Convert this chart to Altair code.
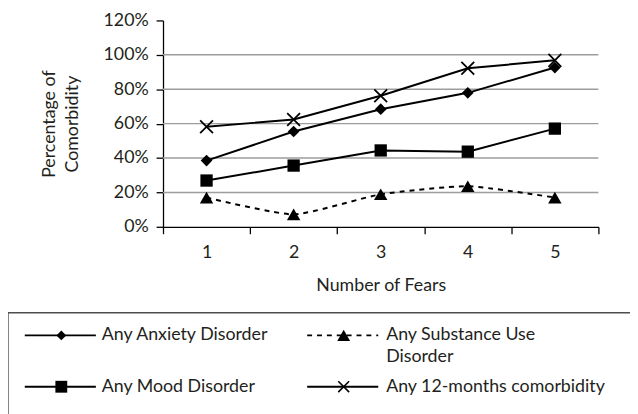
import altair as alt
import pandas as pd

# ---------------- data ----------------
fears = [1, 2, 3, 4, 5]
series_names = [
    "Any Anxiety Disorder",
    "Any Substance Use Disorder",
    "Any Mood Disorder",
    "Any 12-months comorbidity",
]
anxiety = [0.385, 0.554, 0.684, 0.779, 0.926]
substance = [0.170, 0.072, 0.189, 0.236, 0.170]
mood = [0.269, 0.356, 0.444, 0.437, 0.571]
any12 = [0.582, 0.624, 0.762, 0.922, 0.968]
y_tick_values = [0, 0.2, 0.4, 0.6, 0.8, 1.0, 1.2]
grid_values = [0.2, 0.4, 0.6, 0.8, 1.0]
legend_lines = [
    ["Any Anxiety Disorder"],
    ["Any Substance Use", "Disorder"],
    ["Any Mood Disorder"],
    ["Any 12-months comorbidity"],
]
x_title = "Number of Fears"
y_title = ["Percentage of", "Comorbidity"]

rows = []
for name, vals in zip(series_names, [anxiety, substance, mood, any12]):
    for f, v in zip(fears, vals):
        rows.append({"fears": f, "value": v, "series": name})
df = pd.DataFrame(rows)
legend_df = pd.DataFrame({"series": series_names})
grid_df = pd.DataFrame({"value": grid_values})

# ---------------- style ----------------
FONT = "Lato"
FS = 18
TXT = "#231f20"
W, H = 441, 209
X_PATH = "M-1,-1L1,1M-1,1L1,-1"

styles = [
    dict(shape="diamond", size=140, filled=True, dash=None, interp="linear", lsize=100),
    dict(shape="triangle-up", size=185, filled=True, dash=[5, 5], interp="cardinal", lsize=170),
    dict(shape="square", size=155, filled=True, dash=None, interp="linear", lsize=144),
    dict(shape=X_PATH, size=169, filled=False, dash=None, interp="linear", lsize=121),
]
# legend layout (line start, marker, line end, text start, row y) in plot pixels
legend_layout = [
    (-140, -103, -68, -62, 319),
    (146, 183, 218, 226, 319),
    (-140, -103, -68, -62, 371),
    (146, 183, 218, 226, 371),
]

x_enc = alt.X(
    "fears:O",
    scale=alt.Scale(type="band", domain=fears, paddingInner=0, paddingOuter=0),
    axis=alt.Axis(
        title=x_title,
        tickBand="extent",
        labelAngle=0,
        grid=False,
        tickSize=7,
        labelPadding=10,
        titleBaseline="top",
        titleY=51,
    ),
)
y_enc = alt.Y(
    "value:Q",
    scale=alt.Scale(domain=[0, 1.2], nice=False, zero=True),
    axis=alt.Axis(
        values=y_tick_values,
        format=".0%",
        grid=False,
        tickSize=7,
        labelPadding=8,
        title=y_title,
        titleAngle=270,
        titleBaseline="bottom",
        titleAlign="center",
        titleX=-106,
        titleY=H / 2,
        titleLineHeight=23,
    ),
)

layers = []
layers.append(
    alt.Chart(grid_df).mark_rule(color="#9d9d9d", strokeWidth=1.5).encode(y=y_enc)
)

base = alt.Chart(df)
for name, st in zip(series_names, styles):
    kw = dict(color="black", strokeWidth=2, interpolate=st["interp"])
    if st["dash"]:
        kw["strokeDash"] = st["dash"]
    if st["interp"] == "cardinal":
        kw["tension"] = 0.45
    layers.append(
        base.transform_filter(alt.datum.series == name).mark_line(**kw).encode(x=x_enc, y=y_enc)
    )
for name, st in zip(series_names, styles):
    kw = dict(shape=st["shape"], size=st["size"], opacity=1, color="black")
    if st["filled"]:
        kw["filled"] = True
    else:
        kw["filled"] = False
        kw["strokeWidth"] = 1.8
    layers.append(
        base.transform_filter(alt.datum.series == name).mark_point(**kw).encode(x=x_enc, y=y_enc)
    )

# ---------------- legend ----------------
layers.append(
    alt.Chart(alt.Data(values=[{}]))
    .mark_rect(fillOpacity=0, stroke="#4d4d4d", strokeWidth=1.4)
    .encode(x=alt.value(-157), x2=alt.value(490), y=alt.value(296), y2=alt.value(430))
)
for name, st, pos, lines in zip(series_names, styles, legend_layout, legend_lines):
    x0, xm, x1, xt, yy = pos
    lg = alt.Chart(legend_df).transform_filter(alt.datum.series == name)
    kw = dict(color="black", strokeWidth=1.8)
    if st["dash"]:
        kw["strokeDash"] = st["dash"]
    layers.append(lg.mark_rule(**kw).encode(x=alt.value(x0), x2=alt.value(x1), y=alt.value(yy)))
    pk = dict(shape=st["shape"], size=st["lsize"], opacity=1, color="black")
    if st["filled"]:
        pk["filled"] = True
    else:
        pk["filled"] = False
        pk["strokeWidth"] = 1.6
    layers.append(lg.mark_point(**pk).encode(x=alt.value(xm), y=alt.value(yy)))
    for k, line in enumerate(lines):
        layers.append(
            lg.mark_text(align="left", baseline="middle", font=FONT, fontSize=FS, color=TXT)
            .encode(x=alt.value(xt), y=alt.value(yy + 22 * k), text=alt.value(line))
        )

chart = (
    alt.layer(*layers)
    .properties(
        width=W,
        height=H,
        autosize=alt.AutoSizeParams(type="none"),
        padding={"left": 157, "top": 10, "right": 32, "bottom": 187},
    )
    .configure_view(stroke=None)
    .configure_axis(
        labelFont=FONT,
        labelFontSize=FS,
        labelColor=TXT,
        titleFont=FONT,
        titleFontSize=FS,
        titleColor=TXT,
        titleFontWeight="normal",
        domainColor="black",
        domainWidth=1.3,
        tickColor="black",
        tickWidth=1.3,
    )
)

chart.save("out.html", embed_options={"renderer": "svg", "actions": False})
